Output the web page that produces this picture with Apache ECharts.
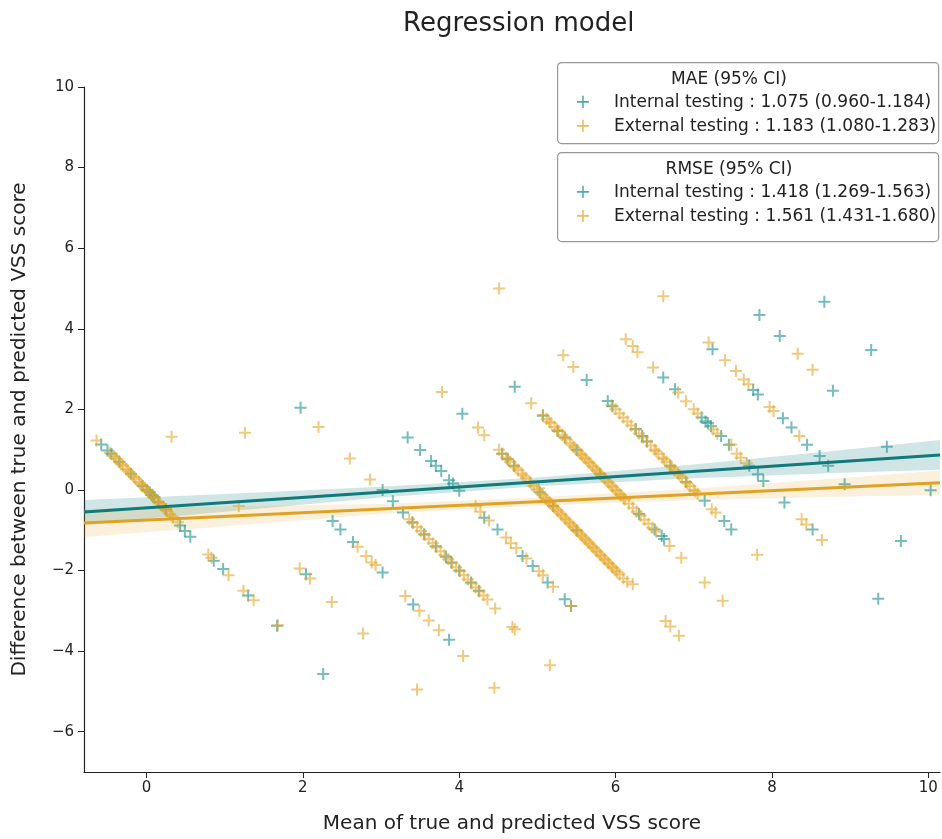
<!DOCTYPE html>
<html>
<head>
<meta charset="utf-8">
<title>Regression model</title>
<script src="https://cdn.jsdelivr.net/npm/echarts@6/dist/echarts.min.js"></script>
<style>
  html, body { margin: 0; padding: 0; background: #fff; }
  #chart { width: 942px; height: 839px; }
</style>
</head>
<body>
<div id="chart"></div>
<script>
// tick labels
const xTicks = [0, 2, 4, 6, 8, 10]
const yTicks = [-6, -4, -2, 0, 2, 4, 6, 8, 10]

// internal testing points [mean, difference]
const internalPts = [
  [-0.58, 1.13], [-0.50, 0.98], [-0.45, 0.90], [-0.35, 0.70], [-0.20, 0.40], [-0.05, 0.10],
  [0.00, 0.00], [0.04, -0.06], [0.06, -0.12], [0.08, -0.14], [0.10, -0.18], [0.15, -0.30],
  [0.25, -0.48], [0.43, -0.88], [0.49, -1.02], [0.56, -1.16], [0.86, -1.76], [0.98, -1.96],
  [1.30, -2.62], [1.67, -3.37], [2.26, -4.57], [1.97, 2.04], [2.04, -2.09],
  [2.38, -0.77], [2.48, -0.98], [2.64, -1.29], [3.02, -2.05], [3.41, -2.84], [3.87, -3.72],
  [3.02, 0.00], [3.15, -0.28], [3.28, -0.56], [3.40, -0.80], [3.55, -1.10], [3.70, -1.40],
  [3.83, -1.66], [3.90, -1.80], [4.00, -2.00], [4.15, -2.30], [4.25, -2.50],
  [3.34, 1.30], [3.50, 0.99], [3.64, 0.72], [3.70, 0.60], [3.77, 0.47], [3.87, 0.24],
  [3.92, 0.16], [4.00, -0.02], [4.32, -0.69], [4.49, -0.98], [4.81, -1.64], [4.94, -1.89],
  [5.13, -2.30], [5.35, -2.71], [5.43, -2.88],
  [4.04, 1.89], [4.55, 0.90], [4.62, 0.76], [4.70, 0.60], [5.03, -0.06], [5.20, -0.40], [5.50, -1.00],
  [4.71, 2.56], [5.07, 1.84], [5.26, 1.46], [5.35, 1.30], [5.50, 1.00], [5.80, 0.40],
  [6.30, -0.60], [6.50, -0.98], [6.59, -1.14], [6.62, -1.22],
  [5.63, 2.73], [5.90, 2.21], [5.96, 2.08], [6.26, 1.51], [6.34, 1.34], [6.40, 1.20],
  [6.70, 0.60], [6.90, 0.20], [7.14, -0.27], [7.39, -0.77], [7.48, -0.98],
  [6.61, 2.79], [6.76, 2.50], [7.10, 1.80], [7.15, 1.70], [7.18, 1.66], [7.22, 1.58],
  [7.35, 1.34], [7.45, 1.12], [7.71, 0.60], [7.82, 0.39], [7.89, 0.22], [8.16, -0.31], [8.52, -0.98],
  [7.24, 3.49], [7.76, 2.48], [7.82, 2.37], [8.14, 1.78], [8.25, 1.55], [8.45, 1.12],
  [8.61, 0.84], [8.72, 0.60],
  [7.84, 4.34], [8.10, 3.82], [8.67, 4.67], [8.78, 2.46], [9.27, 3.47], [9.47, 1.07],
  [10.03, -0.01], [9.65, -1.27], [9.36, -2.70], [8.93, 0.14]
]

// external testing points [mean, difference]
const externalPts = [
  [-0.64, 1.23], [-0.47, 0.92], [-0.42, 0.84], [-0.38, 0.76], [-0.34, 0.68], [-0.30, 0.60],
  [-0.26, 0.52], [-0.22, 0.44], [-0.18, 0.36], [-0.14, 0.28], [-0.10, 0.20], [-0.06, 0.12],
  [-0.02, 0.04], [0.02, -0.04], [0.06, -0.12], [0.10, -0.20], [0.14, -0.28], [0.18, -0.36],
  [0.22, -0.44], [0.26, -0.52], [0.30, -0.60], [0.34, -0.68], [0.40, -0.80], [0.79, -1.60],
  [-0.40, 0.80], [-0.32, 0.64], [-0.24, 0.48], [-0.16, 0.32], [-0.08, 0.16], [0.00, 0.00],
  [0.08, -0.16], [0.16, -0.32], [0.24, -0.48], [0.32, -0.64],
  [0.83, -1.68], [1.05, -2.12], [1.24, -2.50], [1.37, -2.74], [1.68, -3.36],
  [0.32, 1.32], [1.26, 1.42], [1.18, -0.40], [1.96, -1.95], [2.09, -2.20], [2.37, -2.78], [2.77, -3.56],
  [2.20, 1.56], [2.60, 0.78], [2.86, 0.26],
  [2.70, -1.41], [2.81, -1.64], [2.88, -1.80], [2.93, -1.86], [3.31, -2.63], [3.49, -3.00],
  [3.61, -3.24], [3.74, -3.48], [4.05, -4.12],
  [3.36, -0.73], [3.41, -0.82], [3.46, -0.92], [3.51, -1.02], [3.56, -1.12], [3.61, -1.22],
  [3.66, -1.32], [3.71, -1.42], [3.76, -1.52], [3.81, -1.62], [3.86, -1.72], [3.91, -1.82],
  [3.96, -1.92], [4.01, -2.02], [4.06, -2.12], [4.11, -2.22], [4.16, -2.32], [4.21, -2.42],
  [4.26, -2.52], [4.31, -2.62], [4.36, -2.72], [4.46, -2.94],
  [3.46, -4.95], [4.45, -4.91], [4.68, -3.40], [4.71, -3.46], [5.16, -4.35],
  [4.21, -0.40], [4.27, -0.54], [4.38, -0.76], [4.60, -1.18], [4.66, -1.32], [4.73, -1.44],
  [4.86, -1.70], [5.02, -2.02], [5.07, -2.12], [5.20, -2.40], [5.43, -2.88],
  [3.78, 2.43], [4.24, 1.55], [4.32, 1.36], [4.51, 1.00],
  [4.55, 0.90], [4.60, 0.80], [4.65, 0.70], [4.70, 0.60], [4.75, 0.50], [4.80, 0.40],
  [4.85, 0.30], [4.90, 0.20], [4.95, 0.10], [5.00, 0.00], [5.05, -0.10], [5.10, -0.20],
  [5.15, -0.30], [5.20, -0.40], [5.25, -0.50], [5.30, -0.60], [5.35, -0.70], [5.40, -0.80],
  [5.45, -0.90], [5.50, -1.00], [5.55, -1.10], [5.60, -1.20], [5.65, -1.30], [5.70, -1.40],
  [5.75, -1.50], [5.80, -1.60], [5.85, -1.70], [5.90, -1.80], [5.95, -1.90], [6.00, -2.00],
  [6.05, -2.10], [6.10, -2.20], [6.15, -2.28], [6.22, -2.34],
  [4.62, 0.76], [4.72, 0.56], [4.82, 0.36], [4.92, 0.16],
  [5.02, 0.04], [5.12, -0.24], [5.22, -0.44], [5.32, -0.64], [5.42, -0.84], [5.52, -1.04],
  [5.62, -1.24], [5.72, -1.44], [5.82, -1.64], [5.92, -1.84], [6.02, -2.04],
  [5.07, -0.14], [5.17, -0.34], [5.27, -0.54], [5.37, -0.74], [5.47, -0.94], [5.57, -1.14],
  [5.67, -1.34], [5.77, -1.54], [5.87, -1.74], [5.97, -1.94],
  [4.92, 2.15],
  [5.07, 1.86], [5.12, 1.76], [5.17, 1.66], [5.22, 1.56], [5.27, 1.46], [5.32, 1.36],
  [5.37, 1.26], [5.42, 1.16], [5.47, 1.06], [5.52, 0.96], [5.57, 0.86], [5.62, 0.76],
  [5.67, 0.66], [5.72, 0.56], [5.77, 0.46], [5.82, 0.36], [5.87, 0.26], [5.92, 0.16],
  [5.97, 0.06], [6.02, -0.04], [6.07, -0.14], [6.12, -0.24], [6.17, -0.34], [6.22, -0.44],
  [6.27, -0.54], [6.32, -0.64], [6.37, -0.74], [6.42, -0.84], [6.47, -0.94], [6.52, -1.04],
  [5.60, 0.80], [5.70, 0.60], [5.80, 0.40], [5.90, 0.20], [6.00, 0.00], [6.10, -0.20],
  [5.15, 1.70], [5.25, 1.50], [5.35, 1.30], [5.45, 1.10], [5.55, 0.90], [5.65, 0.70],
  [5.75, 0.50], [5.85, 0.30], [5.95, 0.10], [6.05, -0.10],
  [6.69, -1.39], [6.84, -1.68], [7.14, -2.30], [7.37, -2.75],
  [4.51, 5.00], [5.33, 3.34], [5.46, 3.05],
  [5.95, 2.10], [6.00, 2.00], [6.05, 1.90], [6.10, 1.80], [6.15, 1.70], [6.20, 1.60],
  [6.25, 1.50], [6.30, 1.40], [6.35, 1.30], [6.40, 1.20], [6.45, 1.10], [6.50, 1.00],
  [6.55, 0.90], [6.60, 0.80], [6.65, 0.70], [6.70, 0.60], [6.75, 0.50], [6.80, 0.40],
  [6.85, 0.30], [6.90, 0.20], [6.95, 0.10], [7.00, 0.00], [7.05, -0.10],
  [6.52, 0.96], [6.62, 0.76], [6.72, 0.56], [6.82, 0.36], [6.92, 0.16], [7.02, -0.04],
  [7.23, -0.48], [7.28, -0.56], [7.81, -1.61],
  [6.13, 3.74], [6.22, 3.57], [6.28, 3.42], [6.48, 3.04],
  [6.80, 2.42], [6.90, 2.20], [7.00, 2.00], [7.05, 1.90], [7.25, 1.50], [7.30, 1.40],
  [7.48, 1.13], [7.55, 0.90], [7.60, 0.80], [7.68, 0.66], [8.38, -0.73], [8.44, -0.86], [8.64, -1.24],
  [6.61, 4.81], [7.19, 3.66], [7.40, 3.22], [7.54, 2.95], [7.64, 2.74], [7.70, 2.62],
  [7.97, 2.06], [8.02, 1.96], [8.35, 1.34],
  [8.33, 3.38], [8.52, 2.98], [6.64, -3.25], [6.70, -3.39], [6.81, -3.62]
]

// fitted regression lines (end points)
const internalFit = [[-0.8, -0.55], [10.15, 0.87]]
const externalFit = [[-0.8, -0.82], [10.15, 0.18]]

// 95% confidence bands
const bandX = [-0.8, 1, 3, 5, 7, 9, 10.15]
const internalLo = [-0.85, -0.54, -0.19, 0.09, 0.29, 0.43, 0.50]
const internalHi = [-0.25, -0.10, 0.08, 0.31, 0.63, 1.01, 1.24]
const externalLo = [-1.17, -0.90, -0.60, -0.39, -0.25, -0.16, -0.12]
const externalHi = [-0.47, -0.41, -0.35, -0.19, 0.03, 0.31, 0.48]

const legendRows = [
  ['MAE (95% CI)', 'Internal testing : 1.075 (0.960-1.184)', 'External testing : 1.183 (1.080-1.283)'],
  ['RMSE (95% CI)', 'Internal testing : 1.418 (1.269-1.563)', 'External testing : 1.561 (1.431-1.680)']
]

const TEAL = 'rgba(40,150,148,0.8)'
const GOLD = 'rgba(228,166,40,0.75)'
const FONT = 'DejaVu Sans'
const PLUS = 'path://M5,0H7V5H12V7H7V12H5V7H0V5H5Z'

const bandSeries = (lo, hi, color) => ({
  type: 'custom',
  silent: true,
  z: 1,
  data: [0],
  renderItem: (params, api) => {
    const pts = []
    bandX.forEach((x, i) => pts.push(api.coord([x, hi[i]])))
    for (let i = bandX.length - 1; i >= 0; i--) pts.push(api.coord([bandX[i], lo[i]]))
    return { type: 'polygon', shape: { points: pts }, style: { fill: color } }
  }
})

const legendGraphic = []
legendRows.forEach((row, k) => {
  const top = k === 0 ? 62 : 152
  const h = k === 0 ? 81 : 89
  legendGraphic.push({
    type: 'rect', left: 557, top: top,
    shape: { width: 381, height: h, r: 4 },
    style: { fill: '#fff', stroke: '#999', lineWidth: 1.2 }
  })
  legendGraphic.push({
    type: 'text', x: 729, y: top + 18,
    style: { text: row[0], font: '17px "DejaVu Sans"', fill: '#222', align: 'center', verticalAlign: 'middle' }
  })
  ;[1, 2].forEach(j => {
    const y = top + 17 + j * 24
    legendGraphic.push({
      type: 'text', x: 583, y: y,
      style: { text: '+', font: '19px "DejaVu Sans"', fill: j === 1 ? TEAL : GOLD, align: 'center', verticalAlign: 'middle' }
    })
    legendGraphic.push({
      type: 'text', x: 614, y: y,
      style: { text: row[j], font: '17px "DejaVu Sans"', fill: '#222', align: 'left', verticalAlign: 'middle' }
    })
  })
})

const minus = v => String(v).replace('-', '\u2212')

const chart = echarts.init(document.getElementById('chart'))
chart.setOption({
  animation: false,
  textStyle: { fontFamily: FONT },
  title: {
    text: 'Regression model',
    left: 398,
    top: 6,
    textStyle: { fontFamily: FONT, fontSize: 26, fontWeight: 'normal', color: '#222' }
  },
  grid: { left: 84, right: 2, top: 87, bottom: 67 },
  xAxis: {
    type: 'value',
    min: -0.8,
    max: 10.15,
    name: 'Mean of true and predicted VSS score',
    nameLocation: 'middle',
    nameGap: 42,
    nameTextStyle: { fontFamily: FONT, fontSize: 20, color: '#222' },
    splitLine: { show: false },
    axisLine: { onZero: false, lineStyle: { color: '#222', width: 1.2 } },
    axisTick: { show: true, length: 6, customValues: xTicks, lineStyle: { color: '#222' } },
    axisLabel: { customValues: xTicks, fontSize: 15, color: '#222', margin: 9, formatter: minus }
  },
  yAxis: {
    type: 'value',
    min: -7,
    max: 10,
    name: 'Difference between true and predicted VSS score',
    nameLocation: 'middle',
    nameGap: 54,
    nameTextStyle: { fontFamily: FONT, fontSize: 20, color: '#222' },
    splitLine: { show: false },
    axisLine: { show: true, onZero: false, lineStyle: { color: '#222', width: 1.2 } },
    axisTick: { show: true, length: 6, customValues: yTicks, lineStyle: { color: '#222' } },
    axisLabel: { customValues: yTicks, fontSize: 15, color: '#222', margin: 10, formatter: minus }
  },
  graphic: legendGraphic,
  series: [
    bandSeries(internalLo, internalHi, 'rgba(18,124,124,0.2)'),
    bandSeries(externalLo, externalHi, 'rgba(224,160,32,0.16)'),
    {
      name: 'Internal testing',
      type: 'scatter',
      z: 2,
      symbol: PLUS,
      symbolSize: 12,
      itemStyle: { color: TEAL },
      data: internalPts
    },
    {
      name: 'External testing',
      type: 'scatter',
      z: 3,
      symbol: PLUS,
      symbolSize: 12,
      itemStyle: { color: GOLD },
      data: externalPts
    },
    {
      type: 'line',
      z: 4,
      symbol: 'none',
      lineStyle: { color: '#117a7a', width: 3 },
      data: internalFit
    },
    {
      type: 'line',
      z: 4,
      symbol: 'none',
      lineStyle: { color: '#e0a226', width: 3 },
      data: externalFit
    }
  ]
})
</script>
</body>
</html>
